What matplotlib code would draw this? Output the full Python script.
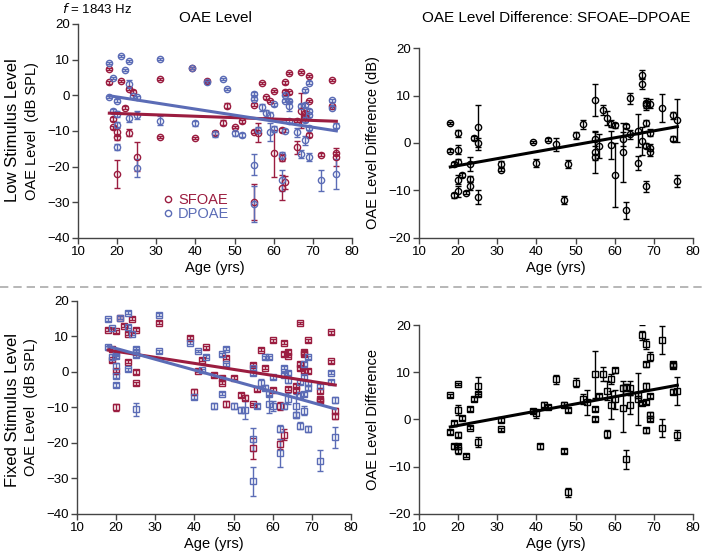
import numpy as np
import matplotlib
matplotlib.use("Agg")
import matplotlib.pyplot as plt
from matplotlib.lines import Line2D

plt.rcParams['font.family'] = ['Liberation Sans', 'DejaVu Sans']

# couleurs
RED = '#9b1d40'
BLUE = '#5b6cb6'

# ---------------------------------------------------------------
# données : (age, niveau, barre d'erreur)
# ---------------------------------------------------------------
# niveau de stimulation faible
sf_low = [(18, 7.3, 0.3), (18, 3.6, 0.3), (19, -6.7, 0.5), (19, -9.0, 0.4), (20, -10.3, 1.0),
          (20, -11.8, 0.8), (20, -22.1, 4.0), (21, 4.0, 0.3), (22, -3.5, 0.4), (23, 1.8, 0.4),
          (23, -10.5, 1.0), (24, 1.0, 0.4), (25, -17.2, 4.0), (31, 4.5, 0.3), (31, -11.8, 0.3),
          (39, 7.6, 0.3), (40, -12.0, 0.3), (43, 4.0, 0.3), (45, -10.5, 0.6), (47, -7.7, 0.7),
          (48, -2.9, 0.7), (50, -9.0, 0.3), (52, -7.3, 0.5), (55, -2.6, 0.4), (55, -10.2, 0.4),
          (55, -30.0, 5.0), (56, -10.5, 2.7), (57, 3.4, 0.3), (58, -0.6, 0.3), (59, -1.6, 0.3),
          (60, 1.3, 0.3), (60, -16.3, 6.5), (62, -9.8, 0.6), (62, -17.5, 1.0), (62, -25.9, 3.5),
          (63, 3.6, 0.3), (63, 1.0, 0.4), (63, -24.4, 1.8), (64, 6.2, 0.3), (64, 0.8, 0.3),
          (66, -14.6, 1.8), (66, -7.1, 0.5), (67, 6.6, 0.3), (67, -4.3, 5.0), (68, -4.9, 0.5),
          (68, -6.0, 0.5), (69, 5.5, 0.3), (69, -1.6, 0.3), (69, -11.1, 0.6), (72, -16.6, 0.4),
          (75, 4.3, 0.3), (75, -2.9, 0.3), (76, -16.3, 0.5), (76, -17.4, 2.5)]

dp_low = [(18, 9.0, 0.3), (18, -0.4, 0.3), (19, 4.8, 0.3), (19, -4.3, 0.5), (20, -1.5, 0.4),
          (20, -5.3, 0.8), (20, -8.2, 0.6), (20, -14.4, 0.8), (21, 11.0, 0.3), (22, 7.1, 0.3),
          (23, 9.7, 0.3), (23, 3.2, 1.2), (23, -6.3, 1.2), (24, -0.3, 0.4), (25, -0.6, 0.4),
          (25, -5.5, 1.2), (25, -20.4, 2.5), (31, 10.3, 0.3), (31, -7.1, 1.2), (39, 7.6, 0.3),
          (40, -7.8, 0.7), (43, 3.7, 0.3), (45, -10.8, 0.8), (47, 4.5, 0.3), (48, 1.8, 0.3),
          (50, -10.6, 0.7), (52, -11.1, 0.6), (55, 0.4, 0.4), (55, -0.9, 0.4), (55, -19.4, 3.0),
          (55, -30.5, 5.0), (56, -9.8, 0.8), (57, -3.3, 1.0), (58, -5.0, 1.0), (59, -5.5, 0.8),
          (59, -10.2, 2.5), (60, -2.5, 0.4), (60, -9.5, 0.8), (62, -16.8, 1.0), (62, -23.8, 3.0),
          (63, 0.2, 0.4), (63, -1.5, 0.4), (63, -9.9, 0.5), (64, -1.5, 0.5), (64, -3.0, 1.5),
          (64, -7.3, 0.6), (66, -10.4, 1.2), (67, -3.0, 0.5), (67, -16.4, 1.2), (68, 1.4, 0.4),
          (68, -2.7, 0.5), (68, -6.8, 0.6), (68, -12.6, 1.2), (69, 3.5, 0.4), (69, -4.5, 0.6),
          (69, -5.4, 0.6), (69, -9.2, 0.6), (69, -17.3, 1.2), (72, -23.8, 3.0), (75, -1.4, 0.4),
          (75, -3.5, 0.4), (76, -8.5, 0.6), (76, -22.1, 4.2)]

diff_low = [(18, 4.2, 0.3), (18, -1.6, 0.3), (19, -4.4, 0.4), (19, -11.0, 0.5), (20, 2.0, 0.8),
            (20, -1.4, 0.9), (20, -3.9, 0.6), (20, -7.7, 1.0), (20, -10.2, 1.2), (21, -6.7, 0.4),
            (22, -10.5, 0.3), (23, -4.4, 1.5), (23, -7.6, 0.6), (23, -9.1, 0.8), (24, 1.1, 0.4),
            (25, 3.3, 4.7), (25, 0.1, 1.0), (25, -11.4, 1.4), (31, -4.4, 0.6), (31, -5.6, 0.4),
            (39, 0.2, 0.3), (40, -4.2, 0.8), (43, 0.7, 0.3), (45, -0.3, 1.3), (47, -12.0, 0.8),
            (48, -4.4, 0.8), (50, 1.6, 0.8), (52, 3.9, 0.9), (55, 9.1, 3.4), (55, 0.9, 1.5),
            (55, -1.9, 4.5), (55, -3.0, 0.6), (56, -0.7, 2.5), (57, 6.9, 1.0), (58, 5.3, 1.5),
            (59, 4.1, 0.8), (59, -0.4, 3.0), (60, 3.7, 0.5), (60, -6.7, 6.8), (62, 0.8, 1.5),
            (62, -2.0, 6.2), (63, 3.6, 0.5), (63, -14.2, 1.8), (64, 9.4, 1.2), (64, 1.8, 1.0),
            (66, 2.6, 3.5), (66, -4.2, 1.4), (67, 14.4, 1.0), (67, 12.5, 1.2), (67, 0.4, 3.0),
            (68, 8.4, 1.0), (68, 7.9, 1.0), (68, 4.2, 0.6), (68, -0.6, 0.5), (68, -9.1, 1.2),
            (69, 8.3, 1.0), (69, 2.2, 0.8), (69, -1.0, 0.7), (69, -2.0, 0.7), (72, 7.4, 3.0),
            (75, 5.8, 0.8), (75, 0.9, 0.5), (76, 4.8, 4.5), (76, -8.0, 1.2)]

# niveau de stimulation fixe
sf_fix = [(18, 11.9, 0.4), (19, 6.4, 0.4), (19, 3.3, 0.4), (20, 11.5, 0.4), (20, 0.3, 0.4),
          (20, -10.0, 1.0), (21, 15.3, 0.4), (22, 13.0, 0.4), (23, 10.8, 0.4), (23, 2.9, 0.4),
          (24, 15.0, 0.4), (25, 11.9, 0.4), (25, 0.0, 0.5), (25, -3.2, 0.4), (31, 13.9, 0.4),
          (39, 9.7, 0.4), (40, -5.5, 0.6), (41, 0.3, 0.4), (42, 3.5, 0.5), (43, 6.9, 0.4),
          (45, -0.9, 0.5), (47, -1.6, 0.5), (47, -3.0, 0.5), (48, 4.0, 0.4), (48, -9.0, 0.8),
          (50, -1.6, 0.5), (52, -6.5, 0.6), (53, -7.2, 0.6), (55, 2.0, 0.4), (55, -9.0, 0.4),
          (55, -21.5, 3.0), (56, -4.8, 0.5), (57, 6.3, 0.5), (58, 1.2, 0.5), (60, 8.9, 0.4),
          (60, -5.1, 0.5), (62, -9.6, 1.2), (62, -20.3, 1.5), (63, 8.2, 0.4), (63, 5.0, 0.5),
          (63, -17.7, 1.5), (64, 5.7, 0.5), (64, 4.6, 0.5), (64, -4.7, 0.5), (66, -4.0, 0.5),
          (66, -5.1, 0.5), (67, 13.8, 0.4), (67, 2.2, 0.5), (67, 1.0, 0.5), (68, 5.7, 0.5),
          (68, 5.0, 0.5), (68, 0.3, 0.5), (69, 8.9, 0.4), (69, 0.3, 0.5), (72, -5.4, 0.6),
          (72, -7.7, 0.6), (72, -8.2, 0.6), (75, 11.2, 0.4), (75, 3.0, 0.4), (76, -11.0, 0.8),
          (76, -12.4, 0.8)]

dp_fix = [(18, 14.8, 0.4), (18, 6.9, 0.4), (19, 12.4, 0.4), (19, 4.3, 0.8), (20, 5.4, 0.4),
          (20, 4.4, 0.4), (20, 1.6, 0.8), (20, -1.2, 0.5), (20, -3.6, 0.6), (21, 15.3, 0.4),
          (23, 16.7, 0.4), (23, 12.7, 0.4), (23, 0.8, 0.4), (24, 10.8, 0.4), (25, 6.6, 0.4),
          (25, 5.7, 0.4), (25, 4.7, 0.4), (25, -10.5, 1.8), (31, 16.1, 0.4), (31, 5.8, 0.4),
          (39, 8.2, 0.4), (40, -7.0, 0.6), (41, 5.9, 0.4), (42, 0.5, 0.4), (43, 4.3, 0.4),
          (45, -9.6, 0.8), (47, 5.0, 0.4), (47, -6.1, 0.5), (48, 6.6, 0.4), (48, 2.2, 0.4),
          (50, -9.6, 0.8), (52, -10.7, 0.8), (53, -10.7, 2.5), (55, 1.0, 0.4), (55, -0.4, 0.4),
          (55, -19.0, 3.3), (55, -30.8, 4.0), (56, -9.6, 0.5), (57, -3.1, 1.2), (58, 4.1, 0.4),
          (58, -4.4, 0.8), (59, 4.1, 0.4), (59, -6.1, 0.8), (59, -9.0, 2.5), (60, -1.4, 0.5),
          (60, -9.6, 1.5), (62, -16.0, 1.0), (62, -22.9, 4.0), (63, 1.2, 0.5), (63, -0.9, 0.5),
          (63, -9.6, 0.8), (64, -0.2, 0.6), (64, -2.3, 0.8), (64, -7.5, 1.5), (66, -9.6, 3.5),
          (66, -12.0, 0.8), (67, -2.8, 0.6), (67, -6.5, 0.8), (67, -15.2, 1.0), (68, 2.2, 0.5),
          (68, -1.4, 0.6), (68, -6.1, 0.6), (68, -10.9, 1.2), (69, 4.1, 0.4), (69, -3.2, 0.6),
          (69, -4.6, 0.6), (69, -16.1, 0.8), (72, -4.0, 0.6), (72, -25.0, 3.0), (75, -0.2, 0.5),
          (75, -2.8, 0.5), (76, -7.9, 0.8), (76, -18.4, 3.0)]

diff_fix = [(18, 5.1, 0.3), (18, -2.7, 0.4), (19, -0.8, 0.5), (19, -5.7, 0.6), (20, 7.5, 0.3),
            (20, 2.0, 1.0), (20, -3.2, 0.5), (20, -5.7, 0.6), (20, -6.4, 1.0), (21, 0.3, 0.4),
            (22, -7.7, 0.3), (23, 2.2, 0.4), (23, -1.7, 0.4), (24, 4.3, 0.4), (25, 7.1, 1.8),
            (25, 5.4, 0.5), (25, -4.8, 1.0), (31, -0.1, 0.4), (31, -2.1, 0.4), (39, 1.8, 0.4),
            (40, 1.3, 1.0), (41, -5.7, 0.6), (42, 3.1, 0.5), (43, 2.7, 0.4), (45, 8.5, 1.0),
            (47, 3.1, 0.5), (47, -6.6, 0.4), (48, 2.0, 0.5), (48, -15.4, 1.0), (50, 7.8, 0.9),
            (52, 4.3, 1.0), (53, 3.6, 2.7), (55, 9.6, 5.0), (55, 2.2, 0.5), (55, 0.1, 0.5),
            (56, 5.0, 0.5), (57, 9.6, 1.5), (58, 6.1, 2.0), (58, -3.1, 0.8), (59, 8.6, 1.0),
            (59, 3.1, 3.0), (60, 10.4, 0.5), (60, 4.3, 2.0), (62, 6.6, 1.5), (62, 2.4, 5.0),
            (63, 6.8, 0.8), (63, -8.4, 2.0), (64, 6.6, 1.5), (64, 3.1, 2.0), (66, 5.2, 0.6),
            (66, 4.3, 5.5), (67, 21.0, 1.0), (67, 17.8, 1.0), (67, 3.5, 0.5), (68, 16.0, 1.0),
            (68, 11.7, 0.5), (68, 7.0, 0.8), (68, 3.7, 0.5), (68, -2.3, 0.5), (69, 13.3, 1.0),
            (69, 5.0, 0.5), (69, 1.0, 0.6), (69, 0.2, 0.6), (72, 16.8, 3.0), (72, -1.8, 1.8),
            (75, 11.7, 0.5), (75, 11.4, 0.5), (75, 5.9, 0.5), (76, 6.1, 3.0), (76, -3.3, 1.0)]

x_ticks = [10, 20, 30, 40, 50, 60, 70, 80]


def style_axes(ax, ylim, yticks):
    ax.set_xlim(10, 80)
    ax.set_ylim(*ylim)
    ax.set_xticks(x_ticks)
    ax.set_yticks(yticks)
    for s in ['top', 'right']:
        ax.spines[s].set_visible(False)
    for s in ['left', 'bottom']:
        ax.spines[s].set_color('#444444')
        ax.spines[s].set_linewidth(1.0)
    ax.tick_params(direction='out', length=4, width=1, color='#444444', labelsize=9.5, pad=2)
    ax.set_xlabel('Age (yrs)', fontsize=10.5, labelpad=2)


def draw_series(ax, data, color, marker, ms):
    d = np.array(data)
    ax.errorbar(d[:, 0], d[:, 1], yerr=d[:, 2], fmt=marker, ms=ms, mfc='none', mec=color,
                mew=1.0, ecolor=color, elinewidth=1.0, capsize=2.2, capthick=1.0, zorder=3)
    # droite de régression
    p = np.polyfit(d[:, 0], d[:, 1], 1)
    xx = np.array([d[:, 0].min(), d[:, 0].max()])
    ax.plot(xx, np.polyval(p, xx), color=color, lw=2.2, zorder=4)


fig = plt.figure(figsize=(7.06, 5.55), dpi=100)

# --- niveau faible ---
ax1 = fig.add_axes([0.1105, 0.5712, 0.3881, 0.3856])
draw_series(ax1, sf_low, RED, 'o', 4.5)
draw_series(ax1, dp_low, BLUE, 'o', 4.5)
style_axes(ax1, (-40, 20), [-40, -30, -20, -10, 0, 10, 20])
ax1.set_ylabel('OAE Level  (dB SPL)', fontsize=10.5, labelpad=6)
handles = [Line2D([], [], marker='o', ls='none', mfc='none', mec=RED, ms=4.5),
           Line2D([], [], marker='o', ls='none', mfc='none', mec=BLUE, ms=4.5)]
ax1.legend(handles, ['SFOAE', 'DPOAE'], loc='lower left', bbox_to_anchor=(0.29, 0.05),
           frameon=False, handlelength=0.6, handletextpad=0.4, labelspacing=0.05,
           fontsize=10.5, labelcolor=[RED, BLUE], borderaxespad=0)

ax2 = fig.add_axes([0.5935, 0.5712, 0.3881, 0.3423])
draw_series(ax2, diff_low, 'black', 'o', 4.5)
style_axes(ax2, (-20, 20), [-20, -10, 0, 10, 20])
ax2.set_ylabel('OAE Level Difference (dB)', fontsize=10.5, labelpad=6)

# --- niveau fixe ---
ax3 = fig.add_axes([0.109, 0.0739, 0.3881, 0.3838])
draw_series(ax3, sf_fix, RED, 's', 4.0)
draw_series(ax3, dp_fix, BLUE, 's', 4.0)
style_axes(ax3, (-40, 20), [-40, -30, -20, -10, 0, 10, 20])
ax3.set_ylabel('OAE Level  (dB SPL)', fontsize=10.5, labelpad=6)

ax4 = fig.add_axes([0.5935, 0.0739, 0.3881, 0.3405])
draw_series(ax4, diff_fix, 'black', 's', 4.0)
style_axes(ax4, (-20, 20), [-20, -10, 0, 10, 20])
ax4.set_ylabel('OAE Level Difference', fontsize=10.5, labelpad=6)

# titres et annotations
fig.text(0.305, 0.967, 'OAE Level', ha='center', va='center', fontsize=11)
fig.text(0.7875, 0.967, 'OAE Level Difference: SFOAE\u2013DPOAE', ha='center', va='center', fontsize=11)
fig.text(0.088, 0.997, r'$f$ = 1843 Hz', ha='left', va='top', fontsize=9.5)
fig.text(0.018, 0.765, 'Low Stimulus Level', rotation=90, ha='center', va='center', fontsize=12)
fig.text(0.018, 0.262, 'Fixed Stimulus Level', rotation=90, ha='center', va='center', fontsize=12)

# ligne de séparation
fig.add_artist(Line2D([0, 1], [0.483, 0.483], transform=fig.transFigure, color='#aaaaaa',
                      lw=1.2, ls=(0, (5, 3))))

fig.savefig('out.png', dpi=100)
